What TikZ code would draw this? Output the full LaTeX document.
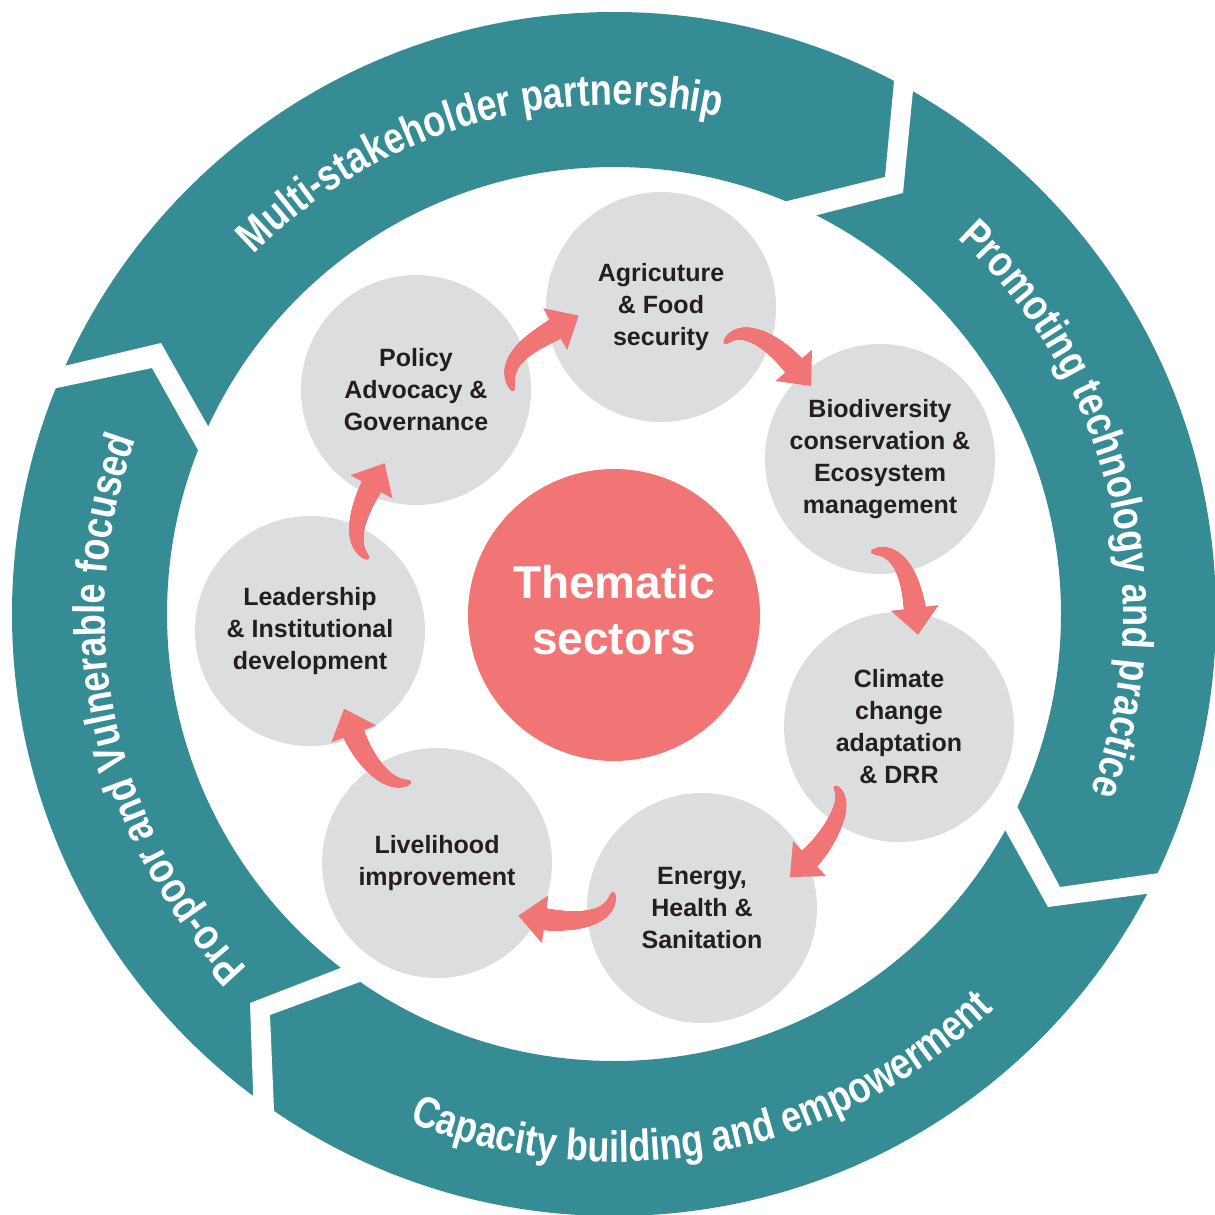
\documentclass[tikz,border=0pt]{standalone}
\usepackage{fontspec}
\setmainfont{Liberation Sans}
\newfontfamily\ringfont[FakeStretch=0.82]{Liberation Sans}
\usetikzlibrary{decorations.text,decorations.markings,calc}
\definecolor{ringc}{HTML}{358C94}
\definecolor{arrc}{HTML}{F17575}
\definecolor{cellc}{HTML}{DCDDDF}
\definecolor{txtc}{HTML}{231F20}
\tikzset{
  cell/.style={circle, fill=cellc, minimum size=230pt, inner sep=0pt, align=center, text=txtc,
    font=\bfseries\fontsize{25}{32}\selectfont},
  hub/.style={circle, fill=arrc, minimum size=292pt, inner sep=0pt},
  hubtext/.style={align=center, text=white, font=\bfseries\fontsize{46}{56}\selectfont},
  gapband/.style={fill=white},
  ringlabel/.style={decorate, decoration={text along path, text align=center, text color=white,
    text={|\ringfont\bfseries\fontsize{44}{44}\selectfont|#1}}},
  swoosh/.style={postaction={decorate, decoration={markings,
    mark=between positions 0 and 0.999 step 0.6pt with {%
      \pgfmathsetmacro{\swr}{0.6+10.4*((0.001+\pgfkeysvalueof{/pgf/decoration/mark info/distance from start}/\pgfdecoratedpathlength)^0.45)}%
      \fill[arrc] (0pt,0pt) circle[radius=\swr pt];},
    mark=at position 1 with {\fill[arrc] (-2pt,-24pt) -- (25pt,0pt) -- (-2pt,24pt) -- cycle;}}}}
}
\begin{document}
\begin{tikzpicture}[x=1pt,y=1pt]
\path[use as bounding box] (0,-1215) rectangle (1215,0);
\fill[white] (0,-1215) rectangle (1215,0);
\coordinate (c) at (614,-614);
% ring
\fill[ringc, even odd rule] (c) circle[radius=602] (c) circle[radius=447];
% gaps (chevrons)
\fill[gapband] (896,-60) -- (885,-177) -- (767,-206) -- (798,-220) -- (903,-193) -- (915,-70) -- cycle;
\fill[gapband] (1180,-870) -- (1060,-887) -- (1011,-795) -- (999,-819) -- (1048,-907) -- (1168,-891) -- cycle;
\fill[gapband] (275,-1133) -- (270,-1015) -- (376,-976) -- (356,-962) -- (250,-1003) -- (254,-1120) -- cycle;
\fill[gapband] (33,-393) -- (152,-368) -- (207,-466) -- (217,-442) -- (161,-343) -- (43,-371) -- cycle;
% ring labels
\path[ringlabel={Multi-stakeholder partnership}] ($(c)+(166.5:509)$) arc[start angle=166.5, end angle=46.5, radius=509];
\path[ringlabel={Promoting technology and practice}] ($(c)+(73.5:509)$) arc[start angle=73.5, end angle=-46.5, radius=509];
\path[ringlabel={Pro-poor and Vulnerable focused}] ($(c)+(252:509)$) arc[start angle=252, end angle=132, radius=509];
\path[ringlabel={Capacity building and empowerment}] ($(c)+(-139:548)$) arc[start angle=-139, end angle=-19, radius=548];
% circles
\node[hub, label={[hubtext, yshift=5pt]center:Thematic\\sectors}] (them) at (614,-615) {};
\node[cell] (agr) at (661,-307) {Agricuture\\\& Food\\security};
\node[cell] (bio) at (880,-459) {Biodiversity\\conservation \&\\Ecosystem\\management};
\node[cell] (cli) at (899,-727) {Climate\\change\\adaptation\\\& DRR};
\node[cell] (ene) at (702,-908) {Energy,\\Health \&\\Sanitation};
\node[cell] (liv) at (437,-863) {Livelihood\\improvement};
\node[cell] (lea) at (310,-631) {Leadership\\\& Institutional\\development};
\node[cell] (pol) at (416,-390) {Policy\\Advocacy \&\\Governance};
% arrows
\path[swoosh] ($(pol)+(97,0)$) .. controls ($(pol)+(84,30)$) and ($(agr)+(-130,-36)$) .. ($(agr)+(-104,-21)$);
\path[swoosh] ($(agr)+(64,-36)$) .. controls ($(agr)+(79,-15)$) and ($(bio)+(-108,119)$) .. ($(bio)+(-85,92)$);
\path[swoosh] ($(bio)+(-8,-93)$) .. controls ($(bio)+(22,-87)$) and ($(cli)+(13,142)$) .. ($(cli)+(16,117)$);
\path[swoosh] ($(cli)+(-64,-60)$) .. controls ($(cli)+(-47,-75)$) and ($(ene)+(124,65)$) .. ($(ene)+(106,48)$);
\path[swoosh] ($(ene)+(-89,15)$) .. controls ($(ene)+(-90,-10)$) and ($(liv)+(143,-61)$) .. ($(liv)+(106,-56)$);
\path[swoosh] ($(liv)+(-27,81)$) .. controls ($(liv)+(-52,73)$) and ($(lea)+(51,-122)$) .. ($(lea)+(43,-101)$);
\path[swoosh] ($(lea)+(58,73)$) .. controls ($(lea)+(35,89)$) and ($(pol)+(-54,-114)$) .. ($(pol)+(-43.5,-95)$);
\end{tikzpicture}
\end{document}
